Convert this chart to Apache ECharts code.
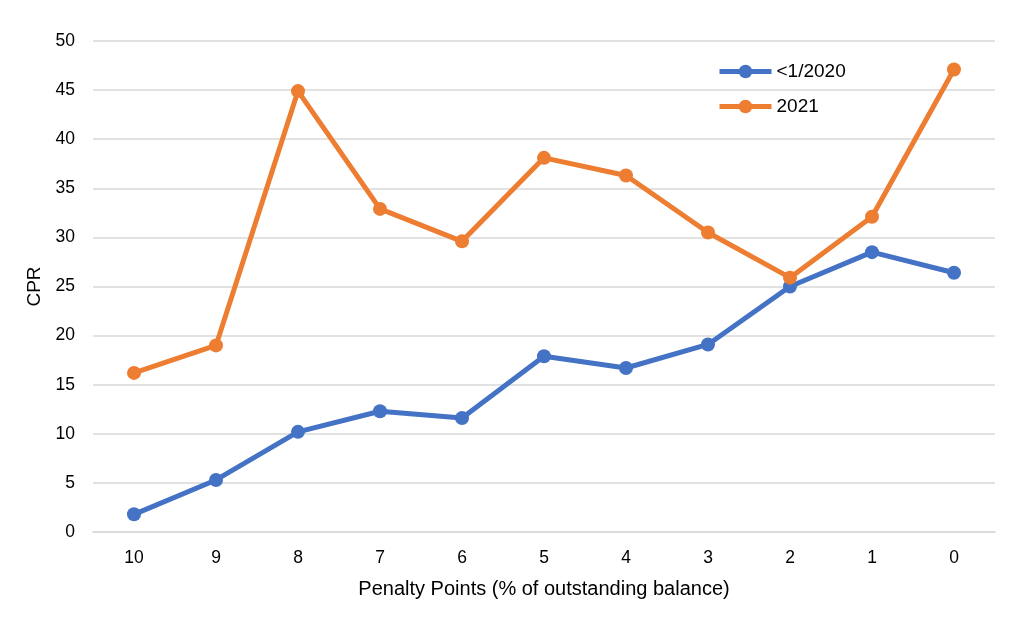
<!DOCTYPE html>
<html>
<head>
<meta charset="utf-8">
<script src="https://cdn.jsdelivr.net/npm/echarts@6/dist/echarts.min.js"></script>
<style>html,body{margin:0;padding:0;background:#fff;}#c{width:1024px;height:625px;}</style>
</head>
<body>
<div id="c"></div>
<script>
const categories = ['10','9','8','7','6','5','4','3','2','1','0'];
const seriesBefore2020 = [1.8, 5.3, 10.2, 12.3, 11.6, 17.9, 16.7, 19.1, 25.0, 28.5, 26.4];
const series2021 = [16.2, 19.0, 44.9, 32.9, 29.6, 38.1, 36.3, 30.5, 25.9, 32.1, 47.1];
const seriesNames = ['<1/2020', '2021'];
const yTicks = {min: 0, max: 50, interval: 5};

const font = 'Liberation Sans, Arial, sans-serif';
const chart = echarts.init(document.getElementById('c'));
chart.setOption({
  animation: false,
  backgroundColor: '#ffffff',
  grid: {left: 93, right: 29, top: 41, bottom: 93},
  legend: {
    orient: 'vertical', left: 712, top: 57,
    itemWidth: 52, itemHeight: 17, itemGap: 16,
    lineStyle: {width: 5},
    textStyle: {fontFamily: font, fontSize: 19, color: '#000'},
    data: seriesNames
  },
  xAxis: {
    type: 'category', data: categories, boundaryGap: true,
    name: 'Penalty Points (% of outstanding balance)', nameLocation: 'middle', nameGap: 47,
    nameTextStyle: {fontFamily: font, fontSize: 20, color: '#000'},
    axisLine: {lineStyle: {color: '#d9d9d9', width: 1.5}},
    axisTick: {show: false},
    axisLabel: {fontFamily: font, fontSize: 17.5, color: '#000', margin: 17}
  },
  yAxis: {
    type: 'value', min: yTicks.min, max: yTicks.max, interval: yTicks.interval,
    name: 'CPR', nameLocation: 'middle', nameGap: 47,
    nameTextStyle: {fontFamily: font, fontSize: 19, color: '#000'},
    axisLine: {show: false}, axisTick: {show: false},
    axisLabel: {fontFamily: font, fontSize: 17.5, color: '#000', margin: 18},
    splitLine: {lineStyle: {color: '#d9d9d9', width: 1.5}}
  },
  series: [
    {name: seriesNames[0], type: 'line', data: seriesBefore2020, symbol: 'circle', symbolSize: 14,
     lineStyle: {width: 5, color: '#4472C4'}, itemStyle: {color: '#4472C4'}},
    {name: seriesNames[1], type: 'line', data: series2021, symbol: 'circle', symbolSize: 14,
     lineStyle: {width: 5, color: '#ED7D31'}, itemStyle: {color: '#ED7D31'}}
  ]
});
</script>
</body>
</html>
